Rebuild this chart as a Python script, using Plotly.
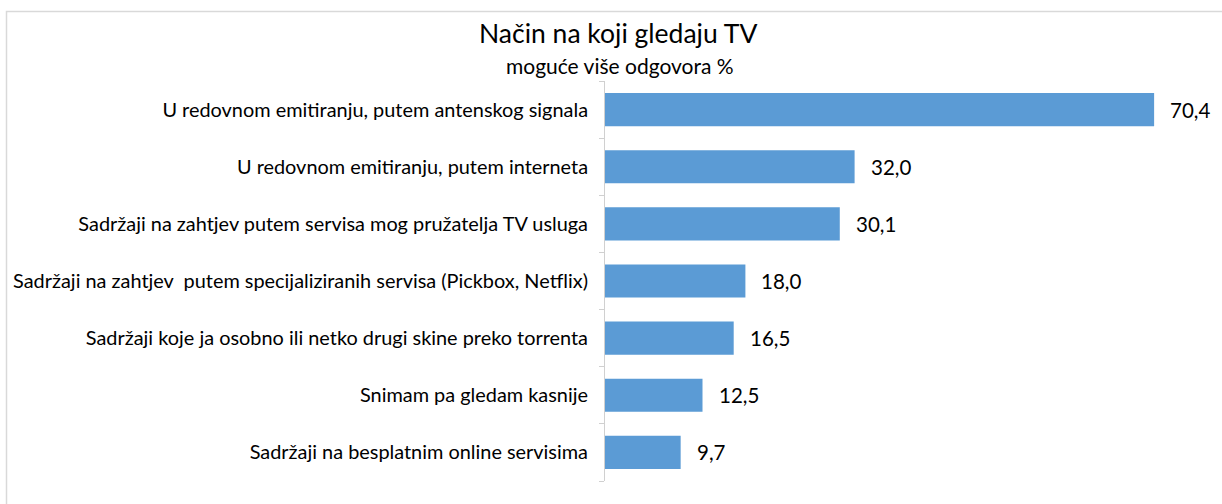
import plotly.graph_objects as go

categories = [
    "U redovnom emitiranju, putem antenskog signala",
    "U redovnom emitiranju, putem interneta",
    "Sadržaji na zahtjev putem servisa mog pružatelja TV usluga",
    "Sadržaji na zahtjev  putem specijaliziranih servisa (Pickbox, Netflix)",
    "Sadržaji koje ja osobno ili netko drugi skine preko torrenta",
    "Snimam pa gledam kasnije",
    "Sadržaji na besplatnim online servisima",
]
values = [70.4, 32.0, 30.1, 18.0, 16.5, 12.5, 9.7]
value_labels = [f"{v:.1f}".replace(".", ",") for v in values]
title_text = "Način na koji gledaju TV"
subtitle_text = "moguće više odgovora %"

W, H = 1222, 504
L, R, T, B = 605, 32, 81, 23
FONT = "Lato, 'Open Sans', sans-serif"
pw = W - L - R
ph = H - T - B


def px_x(p):
    return (p - L) / pw


def px_y(p):
    return (H - B - p) / ph


fig = go.Figure()
fig.add_trace(go.Bar(
    y=categories, x=values, orientation="h",
    marker=dict(color="#5B9BD5", line=dict(width=0)),
    width=0.58, hoverinfo="x+y",
))

for c, v, t in zip(categories, values, value_labels):
    fig.add_annotation(x=v, y=c, text=t, showarrow=False, xanchor="left",
                       xshift=14, font=dict(size=20.5, color="#000000", family=FONT))

fig.add_annotation(xref="paper", yref="paper", x=px_x(618), y=px_y(33),
                   xanchor="center", yanchor="middle", showarrow=False,
                   text=title_text, font=dict(size=26.5, family=FONT, color="#000000"))
fig.add_annotation(xref="paper", yref="paper", x=px_x(620), y=px_y(66),
                   xanchor="center", yanchor="middle", showarrow=False,
                   text=subtitle_text, font=dict(size=21, family=FONT, color="#000000"))

# chart border (top and left visible)
fig.add_shape(type="rect", xref="paper", yref="paper",
              x0=px_x(6.5), x1=px_x(W + 5),
              y0=px_y(H + 5), y1=px_y(11.5),
              line=dict(color="#d9d9d9", width=1.5), fillcolor="rgba(0,0,0,0)", layer="below")

fig.update_layout(
    width=W, height=H,
    margin=dict(l=L, r=R, t=T, b=B, autoexpand=False),
    paper_bgcolor="white", plot_bgcolor="white",
    showlegend=False,
    font=dict(family=FONT, color="#000000"),
    xaxis=dict(range=[0, 75], visible=False, fixedrange=True, automargin=False),
    yaxis=dict(
        categoryorder="array", categoryarray=categories[::-1],
        showline=True, linecolor="#d0d0d0", linewidth=1,
        ticks="outside", tickson="boundaries", ticklen=5, tickcolor="#d0d0d0",
        tickfont=dict(size=19.9, family=FONT, color="#000000"),
        ticklabelstandoff=12, showgrid=False, range=[-0.5, 6.5], automargin=False,
        fixedrange=True,
    ),
)

fig.write_html("out.html", config={"displayModeBar": False},
               post_script="document.body.style.margin='0';")
